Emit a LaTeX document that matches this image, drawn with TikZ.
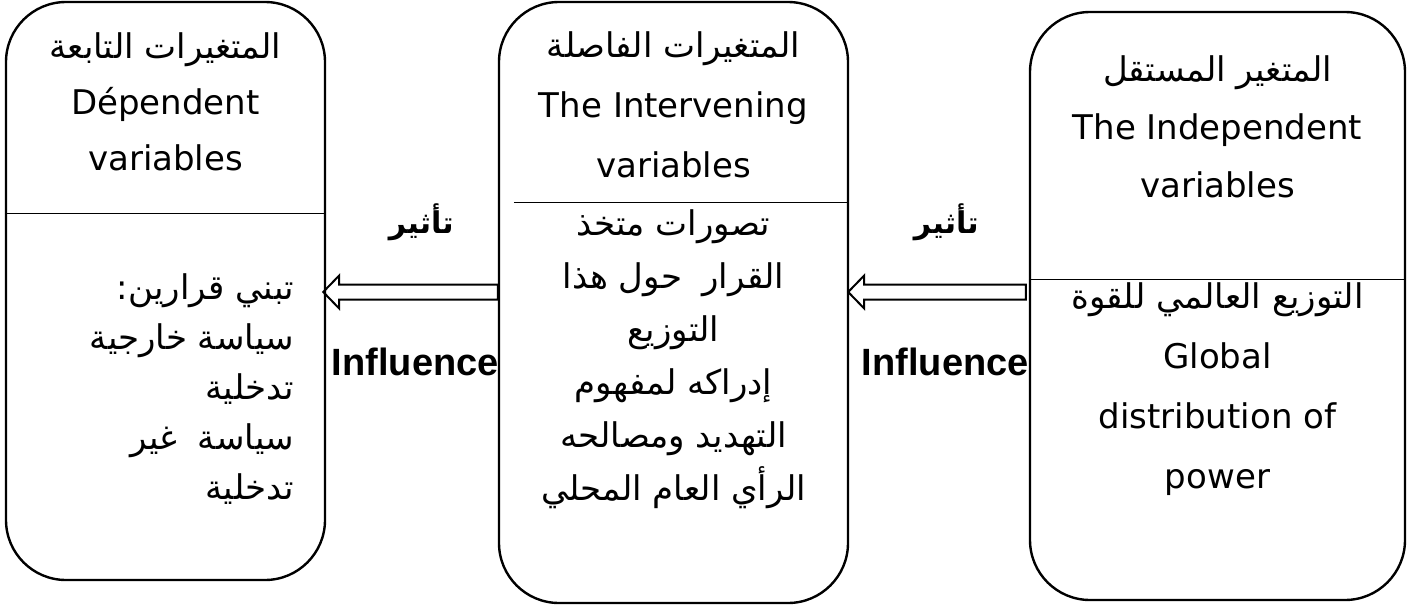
\documentclass[tikz,border=0pt]{standalone}
\usepackage{fontspec}
\setmainfont{DejaVu Sans}
\newfontfamily\arabicfont[Script=Arabic]{DejaVu Sans}
\newfontfamily\boldlatin{Liberation Sans}
\TeXXeTstate=1
\usetikzlibrary{positioning, calc}

\newcommand{\ar}[1]{{\arabicfont\beginR #1\endR}}

\tikzset{
  varbox/.style={draw, line width=1.2pt, rounded corners=30pt},
  sepline/.style={line width=0.6pt},
  blockarrow/.style={draw, line width=1pt, line join=miter},
  boxtext/.style={align=center, inner sep=0pt},
  arrowlabel/.style={font=\fontsize{19}{22}\selectfont\bfseries, inner sep=0pt},
}

\begin{document}
\begin{tikzpicture}[x=0.5pt, y=-0.5pt]

    \useasboundingbox (0,0) rectangle (1415,605);

    % --- THE THREE VARIABLE BOXES ---
    \node[varbox, minimum width=159.5pt, minimum height=289pt] (dep) at (165.5,291) {};
    \node[varbox, minimum width=174.5pt, minimum height=300.5pt] (mid) at (673.5,302.5) {};
    \node[varbox, minimum width=187.5pt, minimum height=294pt] (ind) at (1217.5,306) {};

    % --- DIVIDERS ---
    \draw[sepline] ($(dep.north west)+(0,213)$) -- ($(dep.north east)+(0,213)$);
    \draw[sepline] ($(mid.north west)+(16,202)$) -- ($(mid.north east)+(0,202)$);
    \draw[sepline] ($(ind.north west)+(0,269)$) -- ($(ind.north east)+(0,269)$);

    % --- LEFT BOX TEXT ---
    \node[boxtext, font=\fontsize{17}{28}\selectfont] (depHead) at ($(dep.north)+(0,101)$)
        {\ar{المتغيرات التابعة}\\Dépendent\\variables};
    \node[boxtext, align=right, anchor=east, font=\fontsize{17}{25}\selectfont] (depBody)
        at ($(dep.north east)+(-32,388)$)
        {\ar{تبني قرارين:}\\\ar{سياسة خارجية}\\\ar{تدخلية}\\\ar{سياسة\hspace{0.6em}غير}\\\ar{تدخلية}};

    % --- MIDDLE BOX TEXT ---
    \node[boxtext, font=\fontsize{17}{30}\selectfont] (midHead) at ($(mid.north)+(0,104)$)
        {\ar{المتغيرات الفاصلة}\\The Intervening\\variables};
    \node[boxtext, font=\fontsize{17}{26.5}\selectfont] (midBody) at ($(mid.north)+(0,358)$)
        {\ar{تصورات متخذ}\\\ar{القرار\hspace{0.6em}حول هذا}\\\ar{التوزيع}\\\ar{إدراكه لمفهوم}\\\ar{التهديد ومصالحه}\\\ar{الرأي العام المحلي}};

    % --- RIGHT BOX TEXT ---
    \node[boxtext, font=\fontsize{17}{29}\selectfont] (indHead) at ($(ind.north)+(0,116)$)
        {\ar{المتغير المستقل}\\The Independent\\variables};
    \node[boxtext, font=\fontsize{17}{30}\selectfont] (indBody) at ($(ind.north)+(0,378)$)
        {\ar{التوزيع العالمي للقوة}\\Global\\distribution of\\power};

    % --- INFLUENCE ARROWS ---
    \coordinate (tipA) at ($(dep.east)+(-3,1)$);
    \draw[blockarrow] (tipA) -- ++(16,-16.5) -- ++(0,9)
        -- ($(tipA -| mid.west)+(0,-7.5)$) -- ($(tipA -| mid.west)+(0,7.5)$)
        -- ($(tipA)+(16,7.5)$) -- ++(0,9) -- cycle;

    \coordinate (tipB) at ($(mid.east)+(-1,-10.5)$);
    \draw[blockarrow] (tipB) -- ++(16,-16.5) -- ++(0,9)
        -- ($(tipB -| ind.west)+(-3,-7.5)$) -- ($(tipB -| ind.west)+(-3,7.5)$)
        -- ($(tipB)+(16,7.5)$) -- ++(0,9) -- cycle;

    % --- ARROW LABELS ---
    \node[arrowlabel, font=\fontsize{15}{18}\selectfont\bfseries] (effA) at ($(tipA)+(98,-70)$) {\ar{تأثير}};
    \node[arrowlabel] (inflA) at ($(tipA)+(92,70)$) {\boldlatin\bfseries Influence};
    \node[arrowlabel, font=\fontsize{15}{18}\selectfont\bfseries] (effB) at ($(tipB)+(98,-70)$) {\ar{تأثير}};
    \node[arrowlabel] (inflB) at ($(tipB)+(97,70)$) {\boldlatin\bfseries Influence};

\end{tikzpicture}
\end{document}
